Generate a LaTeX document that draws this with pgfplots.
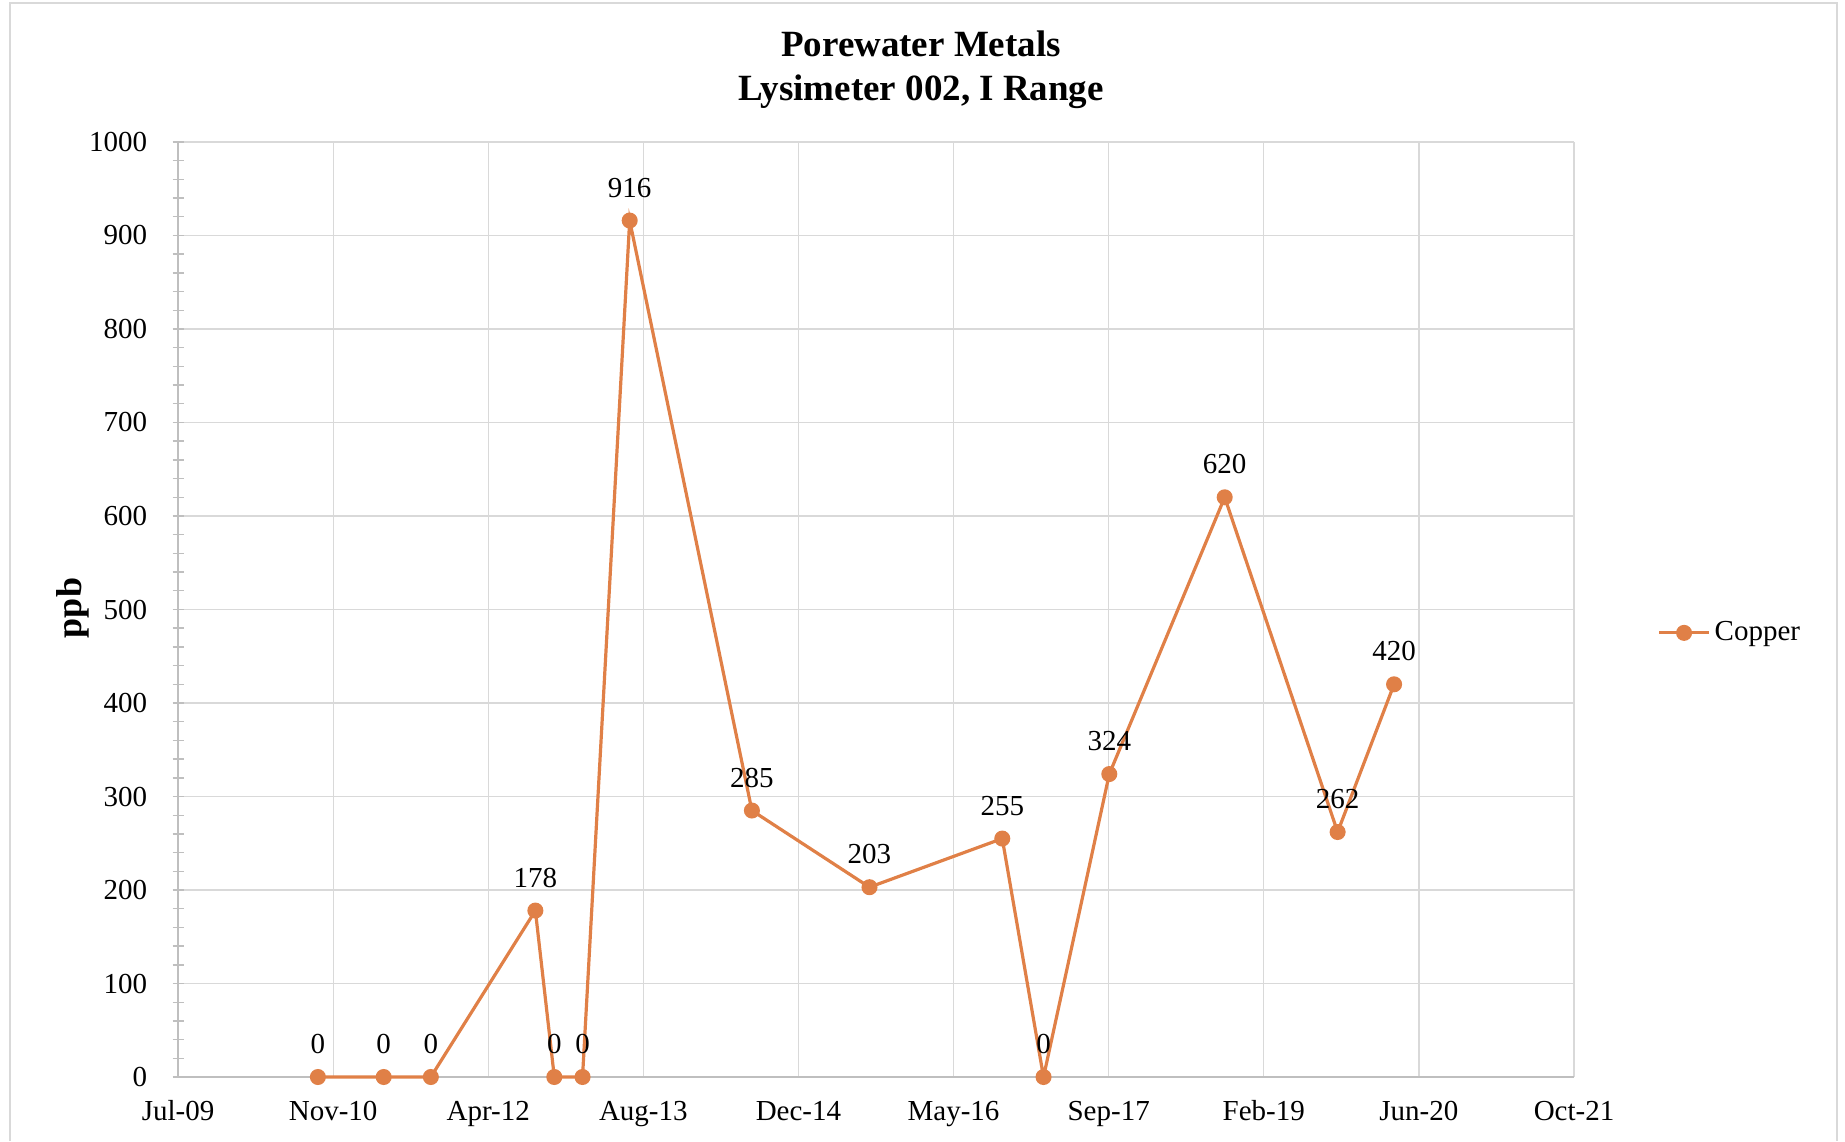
\documentclass[border=0pt]{standalone}
\usepackage{pgfplots}
\pgfplotsset{compat=1.18}
\usepackage{fontspec}
\setmainfont{Liberation Serif}
\definecolor{cu}{RGB}{224,128,71}
\definecolor{gridc}{RGB}{217,217,217}
\definecolor{axc}{RGB}{191,191,191}
\begin{document}
\begin{tikzpicture}[x=1pt,y=1pt]
\useasboundingbox (0,0) rectangle (922.5,570.5);
\draw[gridc, line width=0.7pt] (5,0) -- (5,569) -- (918.5,569) -- (918.5,0);
\node[font=\bfseries\fontsize{18.5}{21}\selectfont, anchor=base] at (460.5,542.2) {Porewater Metals};
\node[font=\bfseries\fontsize{18.5}{21}\selectfont, anchor=base] at (460.5,520.4) {Lysimeter 002, I Range};
\node[font=\bfseries\fontsize{18}{21}\selectfont, rotate=90] at (36.5,266.5) {ppb};
\begin{axis}[
  at={(89pt,32pt)}, anchor=south west, scale only axis,
  width=698pt, height=467.5pt,
  xmin=40000, xmax=44500, ymin=0, ymax=1000,
  xtick={40000,40500,41000,41500,42000,42500,43000,43500,44000,44500},
  xticklabels={Jul-09,Nov-10,Apr-12,Aug-13,Dec-14,May-16,Sep-17,Feb-19,Jun-20,Oct-21},
  ytick={0,100,...,1000}, minor y tick num=4,
  grid=major, major grid style={gridc, line width=0.6pt},
  axis lines*=left, axis line style={axc, line width=0.8pt},
  tick style={axc, line width=0.7pt}, tick align=center,
  major tick length=5.5pt, minor tick length=5.5pt,
  xtick style={draw=none},
  /pgf/number format/assume math mode=true,
  /pgf/number format/1000 sep={},
  tick label style={font=\fontsize{14.5}{17}\selectfont, inner sep=0pt},
  xticklabel style={anchor=base, yshift=-19pt},
  yticklabel style={anchor=east, xshift=-12.5pt},
  legend style={at={(1.0595,0.475)}, anchor=west, draw=none, fill=none, inner sep=0pt,
    font=\fontsize{14.5}{17}\selectfont},
  legend cell align=left,
  legend image code/.code={\draw[mark repeat=2,mark phase=2] plot coordinates {(0pt,0pt)(12.5pt,0pt)(25pt,0pt)};},
  nodes near coords,
  every node near coord/.append style={font=\fontsize{14.5}{17}\selectfont, text=black, anchor=south, inner sep=0pt, yshift=10.8pt},
  clip=false,
]
\addplot[color=cu, line width=1.6pt, mark=*, mark size=3.2pt, mark options={fill=cu, draw=cu}]
  coordinates {
  (40451,0) (40663,0) (40815,0) (41152,178) (41213,0) (41304,0) (41456,916)
  (41850,285) (42229,203) (42657,255) (42790,0) (43002,324) (43374,620)
  (43738,262) (43920,420)
  };
\addlegendentry{Copper}
\end{axis}
\end{tikzpicture}
\end{document}
